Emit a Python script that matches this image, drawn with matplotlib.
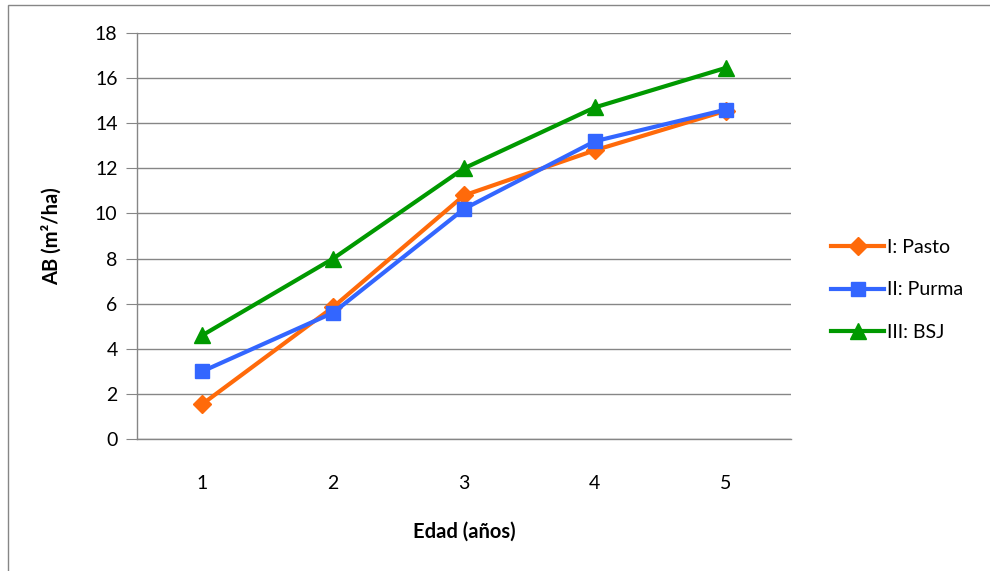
import matplotlib
matplotlib.use('Agg')
import matplotlib.pyplot as plt
from matplotlib.patches import Rectangle

# data
edad = [1, 2, 3, 4, 5]
pasto = [1.55, 5.85, 10.8, 12.8, 14.55]
purma = [3.0, 5.6, 10.2, 13.2, 14.6]
bsj = [4.6, 8.0, 12.0, 14.7, 16.45]
labels = ["I: Pasto", "II: Purma", "III: BSJ"]
yticks = [0, 2, 4, 6, 8, 10, 12, 14, 16, 18]

plt.rcParams['font.family'] = ['Lato', 'DejaVu Sans']

W, H = 990, 571
fig = plt.figure(figsize=(W / 100, H / 100), dpi=100)
ax = fig.add_axes([137 / W, 1 - 439 / H, 654 / W, 406 / H])

# outer chart frame (only left/top edges visible in reference)
fig.patches.append(Rectangle((8 / W, -0.1), 1.2, 1 - 5 / H + 0.1,
                             transform=fig.transFigure, fill=False,
                             edgecolor='#868686', lw=1.0))

series = [
    (pasto, '#FF6A0A', 'D', 9),
    (purma, '#3366FF', 's', 10),
    (bsj, '#009900', '^', 12),
]
for (vals, col, mk, ms), lab in zip(series, labels):
    ax.plot(edad, vals, color=col, lw=3, marker=mk, markersize=ms,
            markeredgecolor=col, label=lab)

ax.set_xlim(0.5, 5.5)
ax.set_ylim(0, 18)
ax.set_yticks(yticks)
ax.set_xticks(edad)
ax.grid(axis='y', color='#868686', lw=1.0)
ax.set_axisbelow(True)
for s in ['top', 'right']:
    ax.spines[s].set_visible(False)
for s in ['left', 'bottom']:
    ax.spines[s].set_color('#868686')
    ax.spines[s].set_linewidth(1.0)
ax.tick_params(axis='y', length=8, color='#868686', labelsize=14, pad=6)
ax.tick_params(axis='x', length=0, labelsize=14, pad=26)

ax.set_ylabel("AB (m²/ha)", fontsize=14.5, fontweight='bold', labelpad=24)
ax.set_xlabel("Edad (años)", fontsize=14.5, fontweight='bold', labelpad=21)

ax.legend(loc='center left', bbox_to_anchor=(1.035, 0.367), frameon=False,
          fontsize=14, handlelength=2.7, handletextpad=0.15, labelspacing=1.3)

fig.savefig("out.png", dpi=100)
